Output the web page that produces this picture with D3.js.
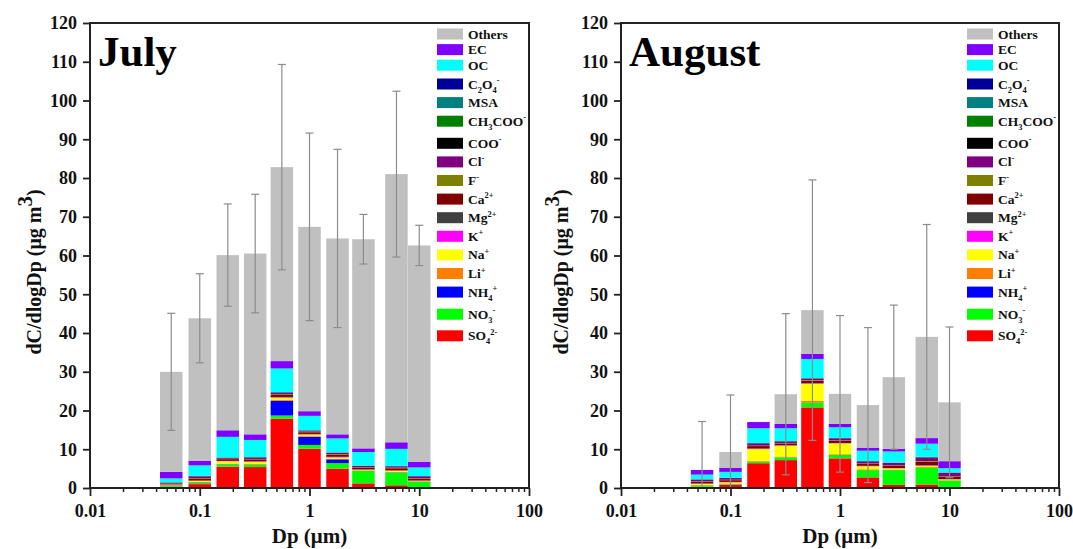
<!DOCTYPE html>
<html>
<head>
<meta charset="utf-8">
<script src="https://cdn.jsdelivr.net/npm/d3@7"></script>
<style>
  body { margin: 0; background: #fff; }
  svg text { font-family: "Liberation Serif", "Times New Roman", serif; font-weight: bold; }
</style>
</head>
<body>
<svg id="chart" width="1073" height="549"></svg>
<script>
// size bins (um), bar centres
const sizeBins = [0.055, 0.1, 0.18, 0.32, 0.56, 1.0, 1.8, 3.1, 6.2, 10];

// stacking order, bottom -> top
const species = ["SO4", "NO3", "NH4", "Li", "Na", "K", "Mg", "Ca", "F", "Cl",
                 "COO", "CH3COO", "MSA", "C2O4", "OC", "EC", "Others"];
const speciesLabel = ["SO_{4}^{2-}", "NO_{3}^{-}", "NH_{4}^{+}", "Li^{+}", "Na^{+}", "K^{+}",
                      "Mg^{2+}", "Ca^{2+}", "F^{-}", "Cl^{-}", "COO^{-}", "CH_{3}COO^{-}",
                      "MSA", "C_{2}O_{4}^{-}", "OC", "EC", "Others"];
const speciesColor = ["#ff0000", "#00ff00", "#0000ff", "#ff8000", "#ffff00", "#ff00ff",
                      "#404040", "#800000", "#808000", "#800080", "#000000", "#008000",
                      "#008080", "#000099", "#00ffff", "#8000ff", "#c0c0c0"];

// July, one row per species (same order as species), one column per bin
const julyData = [
  [0.35, 1.0, 5.5, 5.4, 17.9, 10.15, 5.0, 1.2, 0.7, 0.1],     // SO4
  [0.2, 0.35, 0.6, 0.6, 0.8, 0.95, 1.4, 3.2, 3.3, 1.5],       // NO3
  [0.1, 0.1, 0.05, 0.05, 3.8, 2.1, 1.0, 0.05, 0.05, 0.05],    // NH4
  [0.1, 0.1, 0.15, 0.15, 0.3, 0.2, 0.15, 0.1, 0.15, 0.1],     // Li
  [0.1, 0.25, 0.6, 0.55, 0.5, 0.4, 0.35, 0.15, 0.25, 0.1],    // Na
  [0.05, 0.1, 0.05, 0.1, 0.1, 0.1, 0.1, 0.05, 0.05, 0.05],    // K
  [0.05, 0.05, 0.05, 0.05, 0.1, 0.05, 0.05, 0.05, 0.05, 0.05],// Mg
  [0.25, 0.5, 0.45, 0.5, 0.5, 0.45, 0.5, 0.5, 0.55, 0.45],    // Ca
  [0.05, 0.1, 0.1, 0.1, 0.2, 0.15, 0.2, 0.1, 0.15, 0.1],      // F
  [0.1, 0.45, 0.2, 0.35, 0.3, 0.25, 0.35, 0.3, 0.35, 0.5],    // Cl
  [0.02, 0.03, 0.02, 0.02, 0.05, 0.02, 0.02, 0.02, 0.02, 0.02],// COO
  [0.03, 0.05, 0.05, 0.05, 0.05, 0.03, 0.03, 0.02, 0.03, 0.03],// CH3COO
  [0.03, 0.02, 0.03, 0.03, 0.05, 0.02, 0.02, 0.02, 0.02, 0.02],// MSA
  [0.05, 0.05, 0.05, 0.05, 0.1, 0.05, 0.03, 0.02, 0.03, 0.03], // C2O4
  [1.0, 2.7, 5.3, 4.4, 6.1, 3.7, 3.6, 3.5, 4.4, 2.2],         // OC
  [1.7, 1.2, 1.7, 1.45, 1.9, 1.2, 1.05, 0.95, 1.7, 1.5],      // EC
  [25.8, 36.75, 45.2, 46.65, 50.05, 47.58, 50.55, 53.97, 69.2, 55.8] // Others
];
const julyErr = [15.1, 11.5, 13.2, 15.3, 26.5, 24.2, 23.0, 6.4, 21.4, 5.2];

const augustData = [
  [0.35, 0.85, 6.4, 7.2, 20.8, 7.65, 2.75, 0.8, 0.9, 0.1],    // SO4
  [0.3, 0.15, 0.4, 0.7, 1.2, 0.85, 1.85, 3.8, 4.3, 1.8],      // NO3
  [0.02, 0.02, 0.02, 0.02, 0.05, 0.02, 0.02, 0.02, 0.02, 0.02],// NH4
  [0.15, 0.15, 0.2, 0.2, 0.45, 0.2, 0.2, 0.15, 0.2, 0.1],     // Li
  [0.25, 0.3, 3.0, 2.8, 4.4, 2.8, 0.8, 0.3, 0.3, 0.2],        // Na
  [0.05, 0.05, 0.1, 0.05, 0.1, 0.05, 0.05, 0.05, 0.05, 0.05], // K
  [0.05, 0.05, 0.1, 0.05, 0.1, 0.05, 0.05, 0.05, 0.1, 0.05],  // Mg
  [0.45, 0.45, 0.6, 0.5, 0.6, 0.6, 0.5, 0.6, 0.9, 0.6],       // Ca
  [0.1, 0.1, 0.1, 0.1, 0.15, 0.1, 0.1, 0.1, 0.2, 0.1],        // F
  [0.45, 0.45, 0.6, 0.4, 0.4, 0.5, 0.55, 0.6, 0.9, 0.9],      // Cl
  [0.02, 0.02, 0.02, 0.02, 0.02, 0.02, 0.02, 0.02, 0.03, 0.02],// COO
  [0.03, 0.03, 0.03, 0.03, 0.03, 0.03, 0.03, 0.03, 0.05, 0.03],// CH3COO
  [0.02, 0.02, 0.02, 0.02, 0.02, 0.02, 0.02, 0.02, 0.03, 0.02],// MSA
  [0.02, 0.02, 0.03, 0.03, 0.03, 0.03, 0.03, 0.03, 0.05, 0.03],// C2O4
  [1.2, 1.5, 3.8, 3.3, 4.95, 2.75, 2.65, 2.85, 3.4, 1.1],     // OC
  [1.2, 1.0, 1.6, 1.1, 1.3, 0.85, 0.8, 0.65, 1.45, 1.8],      // EC
  [0, 4.14, 0, 7.68, 11.3, 7.78, 10.98, 18.53, 26.12, 15.18]  // Others
];
const augustErr = [12.5, 14.7, null, 20.8, 33.6, 20.2, 20.0, 18.6, 29.0, 19.45];

const xTickLabels = ["0.01", "0.1", "1", "10", "100"];
const yTicks = d3.range(0, 121, 10);

const svg = d3.select("#chart");
const plotTop = 23, plotBottom = 488;
const halfW = Math.pow(10, 0.1025); // bar half width in log space

// writes "SO_{4}^{2-}" style text with sub/superscripts
function richText(sel, str, size) {
  const re = /([_^])\{([^}]*)\}|([^_^]+)/g;
  let m, shift = 0;
  while ((m = re.exec(str)) !== null) {
    if (m[3]) {
      sel.append("tspan").attr("dy", -shift).attr("font-size", size).text(m[3]);
      shift = 0;
    } else {
      const d = m[1] === "_" ? size * 0.3 : -size * 0.4;
      sel.append("tspan").attr("dy", d - shift).attr("font-size", size * 0.62).text(m[2]);
      shift = d;
    }
  }
}

function drawPanel(left, right, title, data, err, labelX) {
  const x = d3.scaleLog().domain([0.01, 100]).range([left, right]);
  const y = d3.scaleLinear().domain([0, 120]).range([plotBottom, plotTop]);

  const rows = sizeBins.map((dp, i) => {
    const r = { dp: dp, err: err[i] };
    species.forEach((s, k) => r[s] = data[k][i]);
    return r;
  });
  const stacked = d3.stack().keys(species)(rows);

  const g = svg.append("g");

  g.selectAll("g.layer")
    .data(stacked)
    .join("g")
    .attr("class", "layer")
    .attr("fill", (d, k) => speciesColor[k])
    .selectAll("rect")
    .data(d => d)
    .join("rect")
    .attr("x", d => x(d.data.dp / halfW))
    .attr("width", d => x(d.data.dp * halfW) - x(d.data.dp / halfW))
    .attr("y", d => y(d[1]))
    .attr("height", d => Math.max(0, y(d[0]) - y(d[1])));

  // error bars
  const top = stacked[stacked.length - 1];
  const eb = g.selectAll("g.err")
    .data(top.filter(d => d.data.err != null))
    .join("g")
    .attr("class", "err")
    .attr("stroke", "#8c8c8c")
    .attr("stroke-width", 1.2);
  eb.append("line")
    .attr("x1", d => x(d.data.dp)).attr("x2", d => x(d.data.dp))
    .attr("y1", d => y(Math.min(120, d[1] + d.data.err)))
    .attr("y2", d => y(Math.max(0, d[1] - d.data.err)));
  eb.append("line")
    .attr("x1", d => x(d.data.dp) - 4).attr("x2", d => x(d.data.dp) + 4)
    .attr("y1", d => y(d[1] + d.data.err)).attr("y2", d => y(d[1] + d.data.err));
  eb.filter(d => d[1] - d.data.err > 0).append("line")
    .attr("x1", d => x(d.data.dp) - 4).attr("x2", d => x(d.data.dp) + 4)
    .attr("y1", d => y(d[1] - d.data.err)).attr("y2", d => y(d[1] - d.data.err));

  // axes
  const decades = [0.01, 0.1, 1, 10, 100];
  const minor = x.ticks().filter(v => !decades.some(dd => Math.abs(dd - v) < 1e-9));
  g.append("g")
    .attr("transform", `translate(0,${plotBottom})`)
    .call(d3.axisBottom(x).tickValues(minor).tickSize(4).tickFormat(""))
    .call(a => a.select(".domain").remove())
    .call(a => a.selectAll("line").attr("stroke", "#222").attr("stroke-width", 1.5));
  g.append("g")
    .attr("transform", `translate(0,${plotBottom})`)
    .call(d3.axisBottom(x).tickValues(decades).tickSize(8).tickPadding(8)
      .tickFormat((d, i) => xTickLabels[i]))
    .call(a => a.select(".domain").remove())
    .call(a => a.selectAll("line").attr("stroke", "#222").attr("stroke-width", 1.8))
    .call(a => a.selectAll("text").attr("font-size", 18).attr("fill", "#111"));
  g.append("g")
    .attr("transform", `translate(${left},0)`)
    .call(d3.axisLeft(y).tickValues(yTicks).tickSize(7).tickPadding(6))
    .call(a => a.select(".domain").remove())
    .call(a => a.selectAll("line").attr("stroke", "#222").attr("stroke-width", 1.8))
    .call(a => a.selectAll("text").attr("font-size", 18).attr("fill", "#111"));

  // frame
  g.append("rect")
    .attr("x", left).attr("y", plotTop)
    .attr("width", right - left).attr("height", plotBottom - plotTop)
    .attr("fill", "none").attr("stroke", "#222").attr("stroke-width", 2);

  // title
  g.append("text")
    .attr("x", left + 8).attr("y", 66)
    .attr("font-size", 43).attr("fill", "#000")
    .text(title);

  // axis titles
  g.append("text")
    .attr("x", (left + right) / 2).attr("y", 543)
    .attr("text-anchor", "middle").attr("font-size", 21).attr("fill", "#111")
    .text("Dp (μm)");
  const yl = g.append("text")
    .attr("transform", `translate(${labelX},${272}) rotate(-90)`)
    .attr("text-anchor", "middle").attr("font-size", 20).attr("fill", "#111");
  yl.append("tspan").text("dC/dlogDp (μg m");
  yl.append("tspan").attr("dy", -9).attr("font-size", 21).text("3");
  yl.append("tspan").attr("dy", 9).text(")");

  // legend, top row = Others
  const order = d3.range(species.length).reverse();
  order.forEach((k, i) => {
    let ly = i < 3 ? 34 + i * 15.6 : 84 + (i - 3) * 18.6;
    if (i >= 6) ly += 3.5;
    if (i >= 15) ly += 3.5;
    if (i >= 16) ly += 3;
    g.append("rect")
      .attr("x", right - 92).attr("y", ly - 5.5)
      .attr("width", 26).attr("height", 11)
      .attr("fill", speciesColor[k]);
    const t = g.append("text")
      .attr("x", right - 61).attr("y", ly + 4.5)
      .attr("fill", "#111");
    richText(t, speciesLabel[k], 13.5);
  });
}

drawPanel(90, 529, "July", julyData, julyErr, 41);
drawPanel(621, 1059, "August", augustData, augustErr, 568);
</script>
</body>
</html>
